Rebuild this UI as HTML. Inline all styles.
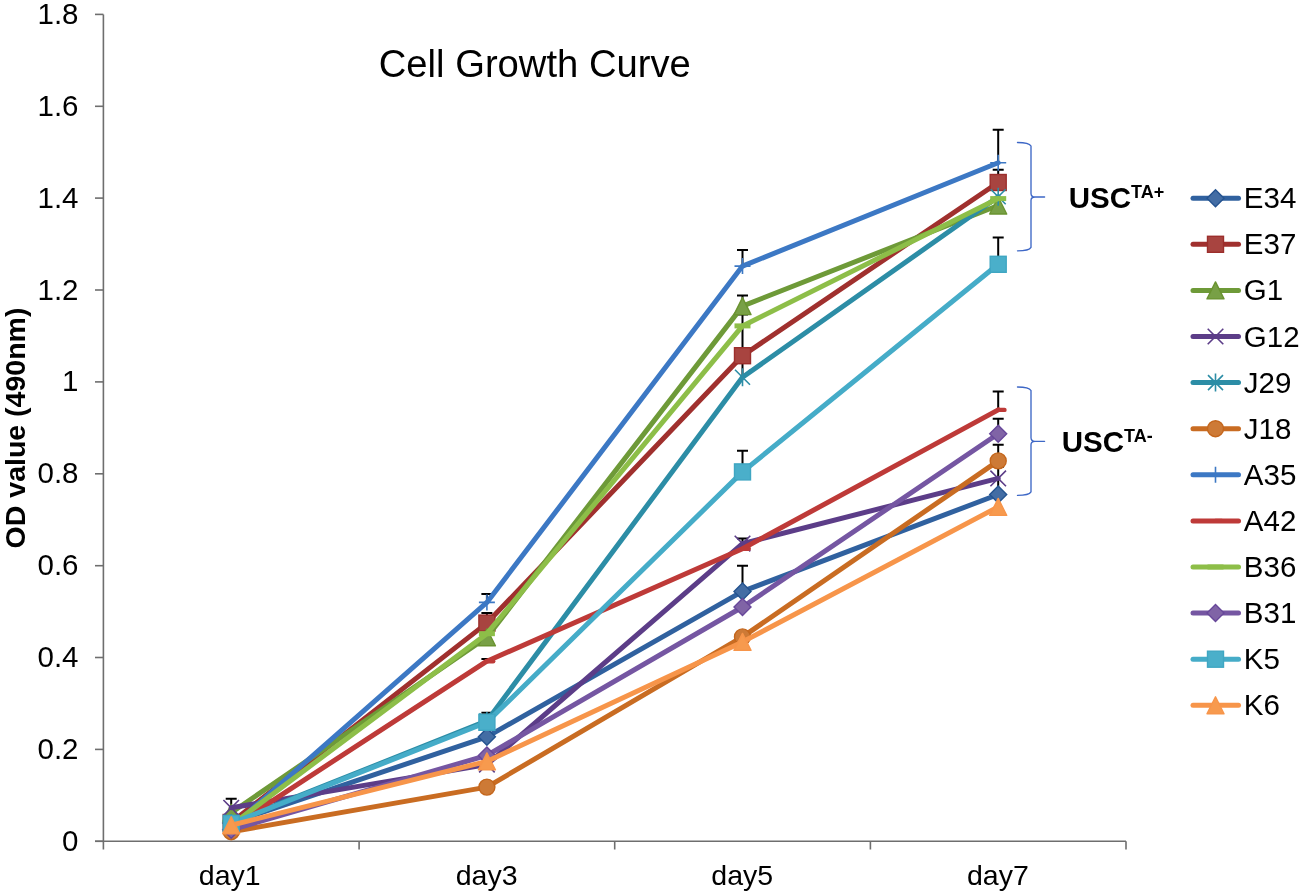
<!DOCTYPE html>
<html><head><meta charset="utf-8"><style>
html,body{margin:0;padding:0;background:#fff;width:1300px;height:894px;overflow:hidden;}
svg{display:block;will-change:transform;}
text{font-family:"Liberation Sans",sans-serif;}
</style></head><body>
<svg width="1300" height="894" viewBox="0 0 1300 894">
<rect width="1300" height="894" fill="#fff"/>
<g stroke="#6E6E6E" stroke-width="1.6" fill="none">
<path d="M103.4 14.6V849.5"/>
<path d="M95 841.3H1126.0"/>
<path d="M95 841.3H103.4"/>
<path d="M95 749.4H103.4"/>
<path d="M95 657.5H103.4"/>
<path d="M95 565.7H103.4"/>
<path d="M95 473.8H103.4"/>
<path d="M95 381.9H103.4"/>
<path d="M95 290.0H103.4"/>
<path d="M95 198.1H103.4"/>
<path d="M95 106.3H103.4"/>
<path d="M95 14.4H103.4"/>
<path d="M359.1 841.3V849.5"/>
<path d="M614.7 841.3V849.5"/>
<path d="M870.4 841.3V849.5"/>
<path d="M1126.0 841.3V849.5"/>
</g>
<g font-size="29.5" fill="#000" text-anchor="end">
<text x="78.5" y="850.8">0</text>
<text x="78.5" y="758.9">0.2</text>
<text x="78.5" y="667.0">0.4</text>
<text x="78.5" y="575.2">0.6</text>
<text x="78.5" y="483.3">0.8</text>
<text x="78.5" y="391.4">1</text>
<text x="78.5" y="299.5">1.2</text>
<text x="78.5" y="207.6">1.4</text>
<text x="78.5" y="115.8">1.6</text>
<text x="78.5" y="23.9">1.8</text>
</g>
<g font-size="28.5" fill="#000" text-anchor="middle">
<text x="229.7" y="884.6">day1</text>
<text x="486.6" y="884.6">day3</text>
<text x="742.2" y="884.6">day5</text>
<text x="997.9" y="884.6">day7</text>
</g>
<g stroke="#000" stroke-width="2" fill="none">
<path d="M231.2 807.8V798.8M225.7 798.8H236.7"/>
<path d="M486.9 602.4V594.1M481.4 594.1H492.4"/>
<path d="M486.9 623.1V613.0M481.4 613.0H492.4"/>
<path d="M486.9 661.2V658.9M481.4 658.9H492.4"/>
<path d="M486.9 722.3V712.7M481.4 712.7H492.4"/>
<path d="M742.5 266.1V250.1M737.0 250.1H748.0"/>
<path d="M742.5 306.1V295.5M737.0 295.5H748.0"/>
<path d="M742.5 377.3V314.4M737.0 314.4H748.0"/>
<path d="M742.5 471.9V450.8M737.0 450.8H748.0"/>
<path d="M742.5 548.7V538.6M737.0 538.6H748.0"/>
<path d="M742.5 591.4V565.7M737.0 565.7H748.0"/>
<path d="M998.2 162.8V129.7M992.7 129.7H1003.7"/>
<path d="M998.2 182.5V169.7M992.7 169.7H1003.7"/>
<path d="M998.2 264.3V237.6M992.7 237.6H1003.7"/>
<path d="M998.2 409.9V391.5M992.7 391.5H1003.7"/>
<path d="M998.2 433.8V418.7M992.7 418.7H1003.7"/>
<path d="M998.2 460.9V444.8M992.7 444.8H1003.7"/>
<path d="M998.2 494.5V466.9M992.7 466.9H1003.7"/>
</g>
<polyline points="231.2,822.9 486.9,736.8 742.5,591.4 998.2,494.5" fill="none" stroke="#30619F" stroke-width="5.0" stroke-linejoin="round" stroke-linecap="round"/>
<path d="M231.2 814.4L239.7 822.9L231.2 831.4L222.7 822.9Z" fill="#436DA4" stroke="#24538F" stroke-width="1.4"/>
<path d="M486.9 728.3L495.4 736.8L486.9 745.3L478.4 736.8Z" fill="#436DA4" stroke="#24538F" stroke-width="1.4"/>
<path d="M742.5 582.9L751.0 591.4L742.5 599.9L734.0 591.4Z" fill="#436DA4" stroke="#24538F" stroke-width="1.4"/>
<path d="M998.2 486.0L1006.7 494.5L998.2 503.0L989.7 494.5Z" fill="#436DA4" stroke="#24538F" stroke-width="1.4"/>
<polyline points="231.2,822.5 486.9,623.1 742.5,355.7 998.2,182.5" fill="none" stroke="#A0302E" stroke-width="5.0" stroke-linejoin="round" stroke-linecap="round"/>
<rect x="223.2" y="814.5" width="16.0" height="16.0" fill="#A84440" stroke="#9C2E2C" stroke-width="1.4"/>
<rect x="478.9" y="615.1" width="16.0" height="16.0" fill="#A84440" stroke="#9C2E2C" stroke-width="1.4"/>
<rect x="734.5" y="347.7" width="16.0" height="16.0" fill="#A84440" stroke="#9C2E2C" stroke-width="1.4"/>
<rect x="990.2" y="174.5" width="16.0" height="16.0" fill="#A84440" stroke="#9C2E2C" stroke-width="1.4"/>
<polyline points="231.2,812.8 486.9,637.3 742.5,306.1 998.2,205.5" fill="none" stroke="#6E9A38" stroke-width="5.0" stroke-linejoin="round" stroke-linecap="round"/>
<path d="M231.2 804.3L239.7 821.3L222.7 821.3Z" fill="#78A046" stroke="#6A9330" stroke-width="1.4" stroke-linejoin="round"/>
<path d="M486.9 628.8L495.4 645.8L478.4 645.8Z" fill="#78A046" stroke="#6A9330" stroke-width="1.4" stroke-linejoin="round"/>
<path d="M742.5 297.6L751.0 314.6L734.0 314.6Z" fill="#78A046" stroke="#6A9330" stroke-width="1.4" stroke-linejoin="round"/>
<path d="M998.2 197.0L1006.7 214.0L989.7 214.0Z" fill="#78A046" stroke="#6A9330" stroke-width="1.4" stroke-linejoin="round"/>
<polyline points="231.2,807.8 486.9,764.6 742.5,543.6 998.2,478.4" fill="none" stroke="#5C3D88" stroke-width="5.0" stroke-linejoin="round" stroke-linecap="round"/>
<path d="M223.4 800.0L239.0 815.6M239.0 800.0L223.4 815.6" stroke="#5C3D88" stroke-width="1.6" fill="none"/>
<path d="M479.1 756.8L494.7 772.4M494.7 756.8L479.1 772.4" stroke="#5C3D88" stroke-width="1.6" fill="none"/>
<path d="M734.7 535.8L750.3 551.4M750.3 535.8L734.7 551.4" stroke="#5C3D88" stroke-width="1.6" fill="none"/>
<path d="M990.4 470.6L1006.0 486.2M1006.0 470.6L990.4 486.2" stroke="#5C3D88" stroke-width="1.6" fill="none"/>
<polyline points="231.2,822.9 486.9,720.9 742.5,377.3 998.2,196.8" fill="none" stroke="#2C8DA6" stroke-width="5.0" stroke-linejoin="round" stroke-linecap="round"/>
<path d="M223.7 815.4L238.7 830.4M238.7 815.4L223.7 830.4M231.2 813.9L231.2 831.9" stroke="#2C8DA6" stroke-width="1.6" fill="none"/>
<path d="M479.4 713.4L494.4 728.4M494.4 713.4L479.4 728.4M486.9 711.9L486.9 729.9" stroke="#2C8DA6" stroke-width="1.6" fill="none"/>
<path d="M735.0 369.8L750.0 384.8M750.0 369.8L735.0 384.8M742.5 368.3L742.5 386.3" stroke="#2C8DA6" stroke-width="1.6" fill="none"/>
<path d="M990.7 189.3L1005.7 204.3M1005.7 189.3L990.7 204.3M998.2 187.8L998.2 205.8" stroke="#2C8DA6" stroke-width="1.6" fill="none"/>
<polyline points="231.2,831.7 486.9,787.1 742.5,636.9 998.2,460.9" fill="none" stroke="#C96C22" stroke-width="5.0" stroke-linejoin="round" stroke-linecap="round"/>
<circle cx="231.2" cy="831.7" r="8.0" fill="#CD7A36" stroke="#C4661C" stroke-width="1.4"/>
<circle cx="486.9" cy="787.1" r="8.0" fill="#CD7A36" stroke="#C4661C" stroke-width="1.4"/>
<circle cx="742.5" cy="636.9" r="8.0" fill="#CD7A36" stroke="#C4661C" stroke-width="1.4"/>
<circle cx="998.2" cy="460.9" r="8.0" fill="#CD7A36" stroke="#C4661C" stroke-width="1.4"/>
<polyline points="231.2,827.5 486.9,602.4 742.5,266.1 998.2,162.8" fill="none" stroke="#3C78C4" stroke-width="5.0" stroke-linejoin="round" stroke-linecap="round"/>
<path d="M223.2 827.5L239.2 827.5M231.2 819.5L231.2 835.5" stroke="#3C78C4" stroke-width="1.6" fill="none"/>
<path d="M478.9 602.4L494.9 602.4M486.9 594.4L486.9 610.4" stroke="#3C78C4" stroke-width="1.6" fill="none"/>
<path d="M734.5 266.1L750.5 266.1M742.5 258.1L742.5 274.1" stroke="#3C78C4" stroke-width="1.6" fill="none"/>
<path d="M990.2 162.8L1006.2 162.8M998.2 154.8L998.2 170.8" stroke="#3C78C4" stroke-width="1.6" fill="none"/>
<polyline points="231.2,827.5 486.9,661.2 742.5,548.7 998.2,409.9" fill="none" stroke="#BE3A38" stroke-width="5.0" stroke-linejoin="round" stroke-linecap="round"/>
<path d="M231.2 827.5H237.5" stroke="#BE3A38" stroke-width="4.4" stroke-linecap="round" fill="none"/>
<path d="M486.9 661.2H493.2" stroke="#BE3A38" stroke-width="4.4" stroke-linecap="round" fill="none"/>
<path d="M742.5 548.7H748.8" stroke="#BE3A38" stroke-width="4.4" stroke-linecap="round" fill="none"/>
<path d="M998.2 409.9H1004.5" stroke="#BE3A38" stroke-width="4.4" stroke-linecap="round" fill="none"/>
<polyline points="231.2,825.2 486.9,633.7 742.5,325.9 998.2,198.6" fill="none" stroke="#8DBE48" stroke-width="5.0" stroke-linejoin="round" stroke-linecap="round"/>
<path d="M223.2 825.2L239.2 825.2" stroke="#8DBE48" stroke-width="5.0" fill="none"/>
<path d="M478.9 633.7L494.9 633.7" stroke="#8DBE48" stroke-width="5.0" fill="none"/>
<path d="M734.5 325.9L750.5 325.9" stroke="#8DBE48" stroke-width="5.0" fill="none"/>
<path d="M990.2 198.6L1006.2 198.6" stroke="#8DBE48" stroke-width="5.0" fill="none"/>
<polyline points="231.2,829.8 486.9,755.4 742.5,607.0 998.2,433.8" fill="none" stroke="#7556A2" stroke-width="5.0" stroke-linejoin="round" stroke-linecap="round"/>
<path d="M231.2 821.3L239.7 829.8L231.2 838.3L222.7 829.8Z" fill="#8064A6" stroke="#67479A" stroke-width="1.4"/>
<path d="M486.9 746.9L495.4 755.4L486.9 763.9L478.4 755.4Z" fill="#8064A6" stroke="#67479A" stroke-width="1.4"/>
<path d="M742.5 598.5L751.0 607.0L742.5 615.5L734.0 607.0Z" fill="#8064A6" stroke="#67479A" stroke-width="1.4"/>
<path d="M998.2 425.3L1006.7 433.8L998.2 442.3L989.7 433.8Z" fill="#8064A6" stroke="#67479A" stroke-width="1.4"/>
<polyline points="231.2,823.4 486.9,722.3 742.5,471.9 998.2,264.3" fill="none" stroke="#45ACC8" stroke-width="5.0" stroke-linejoin="round" stroke-linecap="round"/>
<rect x="223.2" y="815.4" width="16.0" height="16.0" fill="#4AAFCA" stroke="#3FA6C2" stroke-width="1.4"/>
<rect x="478.9" y="714.3" width="16.0" height="16.0" fill="#4AAFCA" stroke="#3FA6C2" stroke-width="1.4"/>
<rect x="734.5" y="463.9" width="16.0" height="16.0" fill="#4AAFCA" stroke="#3FA6C2" stroke-width="1.4"/>
<rect x="990.2" y="256.3" width="16.0" height="16.0" fill="#4AAFCA" stroke="#3FA6C2" stroke-width="1.4"/>
<polyline points="231.2,825.2 486.9,761.4 742.5,641.9 998.2,506.9" fill="none" stroke="#F7954A" stroke-width="5.0" stroke-linejoin="round" stroke-linecap="round"/>
<path d="M231.2 816.7L239.7 833.7L222.7 833.7Z" fill="#F79A4E" stroke="#F7954A" stroke-width="1.4" stroke-linejoin="round"/>
<path d="M486.9 752.9L495.4 769.9L478.4 769.9Z" fill="#F79A4E" stroke="#F7954A" stroke-width="1.4" stroke-linejoin="round"/>
<path d="M742.5 633.4L751.0 650.4L734.0 650.4Z" fill="#F79A4E" stroke="#F7954A" stroke-width="1.4" stroke-linejoin="round"/>
<path d="M998.2 498.4L1006.7 515.4L989.7 515.4Z" fill="#F79A4E" stroke="#F7954A" stroke-width="1.4" stroke-linejoin="round"/>
<path d="M1017.5 142.5Q1029.0 142.5 1031.0 146.0V193.5Q1031.0 197 1035.0 197H1044.6M1035.0 197Q1031.0 197 1031.0 200.5V247.3Q1029.0 250.8 1017.5 250.8" fill="none" stroke="#3D67C6" stroke-width="1.35" stroke-linecap="round"/>
<path d="M1017.5 387Q1029.0 387 1031.0 390.5V437.8Q1031.0 441.3 1035.0 441.3H1044.6M1035.0 441.3Q1031.0 441.3 1031.0 444.8V491.9Q1029.0 495.4 1017.5 495.4" fill="none" stroke="#3D67C6" stroke-width="1.35" stroke-linecap="round"/>
<g font-weight="bold" fill="#000">
<text x="1068.8" y="208" font-size="29.5">USC<tspan font-size="18" dy="-10.5">TA+</tspan></text>
<text x="1061.8" y="452" font-size="29.5">USC<tspan font-size="18" dy="-10.5">TA-</tspan></text>
</g>
<text x="378.8" y="77" font-size="38.2" fill="#000">Cell Growth Curve</text>
<text transform="translate(25,428) rotate(-90)" text-anchor="middle" font-weight="bold" font-size="28.5" fill="#000">OD value (490nm)</text>
<path d="M1193 198.2H1238.5" stroke="#30619F" stroke-width="5.0" stroke-linecap="round"/>
<path d="M1215.5 189.7L1224.0 198.2L1215.5 206.7L1207.0 198.2Z" fill="#436DA4" stroke="#24538F" stroke-width="1.4"/>
<text x="1243.8" y="208.2" font-size="29.5" fill="#000">E34</text>
<path d="M1193 244.3H1238.5" stroke="#A0302E" stroke-width="5.0" stroke-linecap="round"/>
<rect x="1207.5" y="236.3" width="16.0" height="16.0" fill="#A84440" stroke="#9C2E2C" stroke-width="1.4"/>
<text x="1243.8" y="254.3" font-size="29.5" fill="#000">E37</text>
<path d="M1193 290.4H1238.5" stroke="#6E9A38" stroke-width="5.0" stroke-linecap="round"/>
<path d="M1215.5 281.9L1224.0 298.9L1207.0 298.9Z" fill="#78A046" stroke="#6A9330" stroke-width="1.4" stroke-linejoin="round"/>
<text x="1243.8" y="300.4" font-size="29.5" fill="#000">G1</text>
<path d="M1193 336.5H1238.5" stroke="#5C3D88" stroke-width="5.0" stroke-linecap="round"/>
<path d="M1207.7 328.7L1223.3 344.3M1223.3 328.7L1207.7 344.3" stroke="#5C3D88" stroke-width="1.6" fill="none"/>
<text x="1243.8" y="346.5" font-size="29.5" fill="#000">G12</text>
<path d="M1193 382.6H1238.5" stroke="#2C8DA6" stroke-width="5.0" stroke-linecap="round"/>
<path d="M1208.0 375.1L1223.0 390.1M1223.0 375.1L1208.0 390.1M1215.5 373.6L1215.5 391.6" stroke="#2C8DA6" stroke-width="1.6" fill="none"/>
<text x="1243.8" y="392.6" font-size="29.5" fill="#000">J29</text>
<path d="M1193 428.7H1238.5" stroke="#C96C22" stroke-width="5.0" stroke-linecap="round"/>
<circle cx="1215.5" cy="428.7" r="8.0" fill="#CD7A36" stroke="#C4661C" stroke-width="1.4"/>
<text x="1243.8" y="438.7" font-size="29.5" fill="#000">J18</text>
<path d="M1193 474.8H1238.5" stroke="#3C78C4" stroke-width="5.0" stroke-linecap="round"/>
<path d="M1207.5 474.8L1223.5 474.8M1215.5 466.8L1215.5 482.8" stroke="#3C78C4" stroke-width="1.6" fill="none"/>
<text x="1243.8" y="484.8" font-size="29.5" fill="#000">A35</text>
<path d="M1193 520.9H1238.5" stroke="#BE3A38" stroke-width="5.0" stroke-linecap="round"/>
<path d="M1215.5 520.9H1221.8" stroke="#BE3A38" stroke-width="4.4" stroke-linecap="round" fill="none"/>
<text x="1243.8" y="530.9" font-size="29.5" fill="#000">A42</text>
<path d="M1193 567.0H1238.5" stroke="#8DBE48" stroke-width="5.0" stroke-linecap="round"/>
<path d="M1207.5 567.0L1223.5 567.0" stroke="#8DBE48" stroke-width="5.0" fill="none"/>
<text x="1243.8" y="577.0" font-size="29.5" fill="#000">B36</text>
<path d="M1193 613.1H1238.5" stroke="#7556A2" stroke-width="5.0" stroke-linecap="round"/>
<path d="M1215.5 604.6L1224.0 613.1L1215.5 621.6L1207.0 613.1Z" fill="#8064A6" stroke="#67479A" stroke-width="1.4"/>
<text x="1243.8" y="623.1" font-size="29.5" fill="#000">B31</text>
<path d="M1193 659.2H1238.5" stroke="#45ACC8" stroke-width="5.0" stroke-linecap="round"/>
<rect x="1207.5" y="651.2" width="16.0" height="16.0" fill="#4AAFCA" stroke="#3FA6C2" stroke-width="1.4"/>
<text x="1243.8" y="669.2" font-size="29.5" fill="#000">K5</text>
<path d="M1193 705.3H1238.5" stroke="#F7954A" stroke-width="5.0" stroke-linecap="round"/>
<path d="M1215.5 696.8L1224.0 713.8L1207.0 713.8Z" fill="#F79A4E" stroke="#F7954A" stroke-width="1.4" stroke-linejoin="round"/>
<text x="1243.8" y="715.3" font-size="29.5" fill="#000">K6</text>
</svg>
</body></html>
